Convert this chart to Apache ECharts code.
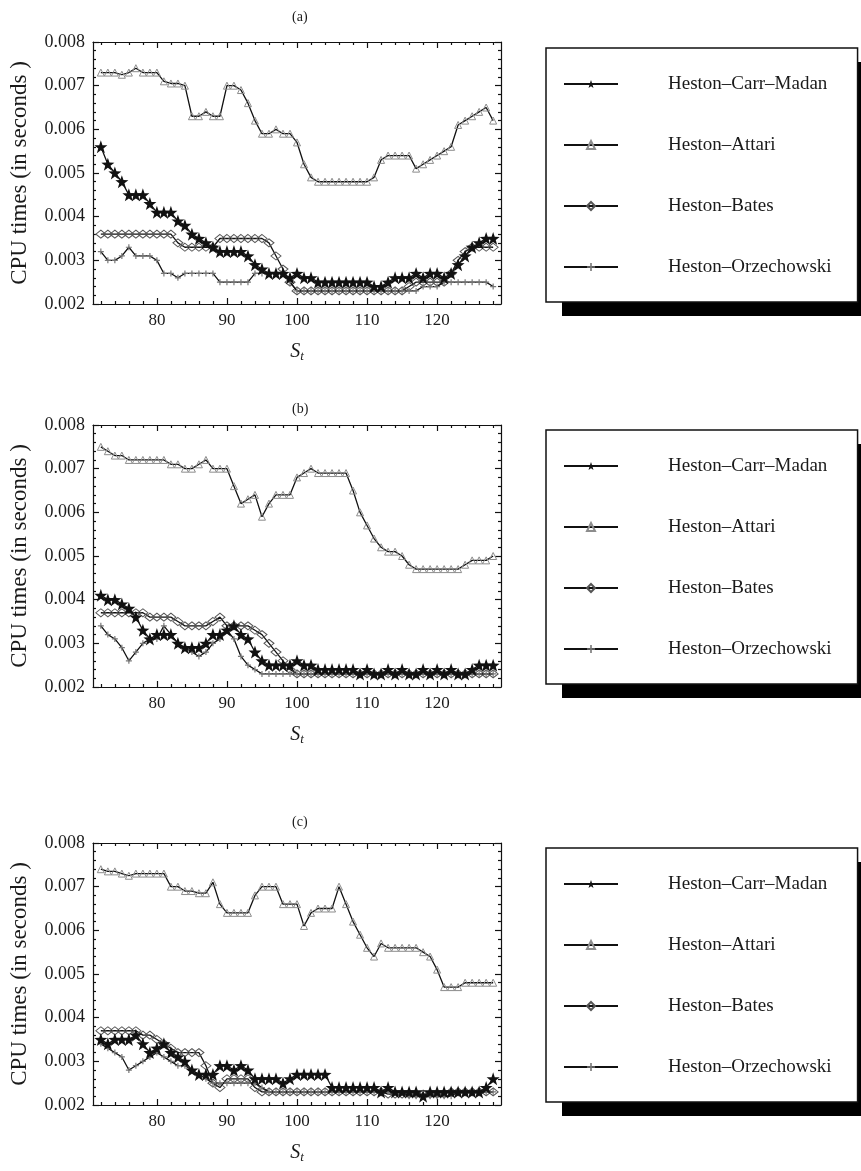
<!DOCTYPE html>
<html>
<head>
<meta charset="utf-8">
<script src="https://cdn.jsdelivr.net/npm/echarts@6/dist/echarts.min.js"></script>
<style>
  html, body { margin: 0; padding: 0; background: #fff; }
  #chart { width: 861px; height: 1171px; }
</style>
</head>
<body>
<div id="chart"></div>
<script>
// Stock price grid S_t shared by all three panels
const stockPrice = [72,73,74,75,76,77,78,79,80,81,82,83,84,85,86,87,88,89,90,91,
  92,93,94,95,96,97,98,99,100,101,102,103,104,105,106,107,108,109,110,111,
  112,113,114,115,116,117,118,119,120,121,122,123,124,125,126,127,128];

const majorTicksX = [80, 90, 100, 110, 120];
const minorTicksX = [72,74,76,78,82,84,86,88,92,94,96,98,102,104,106,108,112,114,116,118,122,124,126,128];

const seriesNames = ['Heston\u2013Carr\u2013Madan', 'Heston\u2013Attari', 'Heston\u2013Bates', 'Heston\u2013Orzechowski'];
const panelTitles = ['(a)', '(b)', '(c)'];

// ---- panel (a) CPU times, seconds ----
const carrMadanA = [0.0056,0.0052,0.0050,0.0048,0.0045,0.0045,0.0045,0.0043,0.0041,0.0041,
  0.0041,0.0039,0.0038,0.0036,0.0035,0.0034,0.0033,0.0032,0.0032,0.0032,
  0.0032,0.0031,0.0029,0.0028,0.0027,0.0027,0.0027,0.0026,0.0027,0.0026,
  0.0026,0.0025,0.0025,0.0025,0.0025,0.0025,0.0025,0.0025,0.0025,0.0024,
  0.0024,0.0025,0.0026,0.0026,0.0026,0.0027,0.0026,0.0027,0.0027,0.0026,
  0.0027,0.0029,0.0031,0.0033,0.0034,0.0035,0.0035];
const attariA = [0.0073,0.0073,0.0073,0.00725,0.0073,0.0074,0.0073,0.0073,0.0073,0.0071,
  0.00705,0.00705,0.0070,0.0063,0.0063,0.0064,0.0063,0.0063,0.0070,0.0070,
  0.0069,0.0066,0.0062,0.0059,0.0059,0.0060,0.0059,0.0059,0.0057,0.0052,
  0.0049,0.0048,0.0048,0.0048,0.0048,0.0048,0.0048,0.0048,0.0048,0.0049,
  0.0053,0.0054,0.0054,0.0054,0.0054,0.0051,0.0052,0.0053,0.0054,0.0055,
  0.0056,0.0061,0.0062,0.0063,0.0064,0.0065,0.0062];
const batesA = [0.0036,0.0036,0.0036,0.0036,0.0036,0.0036,0.0036,0.0036,0.0036,0.0036,
  0.0036,0.0034,0.0033,0.0033,0.0033,0.0033,0.0033,0.0035,0.0035,0.0035,
  0.0035,0.0035,0.0035,0.0035,0.0034,0.0031,0.0028,0.0025,0.0023,0.0023,
  0.0023,0.0023,0.0023,0.0023,0.0023,0.0023,0.0023,0.0023,0.0023,0.0023,
  0.0023,0.0023,0.0023,0.0023,0.0024,0.0025,0.0025,0.0025,0.0025,0.0025,
  0.0027,0.0030,0.0032,0.0033,0.0033,0.0033,0.0033];
const orzechowskiA = [0.0032,0.0030,0.0030,0.0031,0.0033,0.0031,0.0031,0.0031,0.0030,0.0027,
  0.0027,0.0026,0.0027,0.0027,0.0027,0.0027,0.0027,0.0025,0.0025,0.0025,
  0.0025,0.0025,0.0027,0.0027,0.0027,0.0027,0.0027,0.0025,0.0023,0.0023,
  0.0023,0.0023,0.0023,0.0023,0.0023,0.0023,0.0023,0.0023,0.0023,0.0023,
  0.0023,0.0023,0.0023,0.0023,0.0023,0.0023,0.0024,0.0024,0.0024,0.0025,
  0.0025,0.0025,0.0025,0.0025,0.0025,0.0025,0.0024];

// ---- panel (b) ----
const carrMadanB = [0.0041,0.0040,0.0040,0.0039,0.0038,0.0036,0.0033,0.0031,0.0032,0.0032,
  0.0032,0.0030,0.0029,0.0029,0.0029,0.0030,0.0032,0.0032,0.0033,0.0034,
  0.0032,0.0031,0.0028,0.0026,0.0025,0.0025,0.0025,0.0025,0.0026,0.0025,
  0.0025,0.0024,0.0024,0.0024,0.0024,0.0024,0.0024,0.0023,0.0024,0.0023,
  0.0023,0.0024,0.0023,0.0024,0.0023,0.0023,0.0024,0.0023,0.0024,0.0023,
  0.0024,0.0023,0.0023,0.0024,0.0025,0.0025,0.0025];
const attariB = [0.0075,0.0074,0.0073,0.0073,0.0072,0.0072,0.0072,0.0072,0.0072,0.0072,
  0.0071,0.0071,0.0070,0.0070,0.0071,0.0072,0.0070,0.0070,0.0070,0.0066,
  0.0062,0.0063,0.0064,0.0059,0.0062,0.0064,0.0064,0.0064,0.0068,0.0069,
  0.0070,0.0069,0.0069,0.0069,0.0069,0.0069,0.0065,0.0060,0.0057,0.0054,
  0.0052,0.0051,0.0051,0.0050,0.0048,0.0047,0.0047,0.0047,0.0047,0.0047,
  0.0047,0.0047,0.0048,0.0049,0.0049,0.0049,0.0050];
const batesB = [0.0037,0.0037,0.0037,0.0037,0.0037,0.0037,0.0037,0.0036,0.0036,0.0036,
  0.0036,0.0035,0.0034,0.0034,0.0034,0.0034,0.0035,0.0036,0.0034,0.0034,
  0.0034,0.0034,0.0033,0.0032,0.0030,0.0028,0.0026,0.0024,0.0023,0.0023,
  0.0023,0.0023,0.0023,0.0023,0.0023,0.0023,0.0023,0.0023,0.0023,0.0023,
  0.0023,0.0023,0.0023,0.0023,0.0023,0.0023,0.0023,0.0023,0.0023,0.0023,
  0.0023,0.0023,0.0023,0.0023,0.0023,0.0023,0.0023];
const orzechowskiB = [0.0034,0.0032,0.0031,0.0029,0.0026,0.0028,0.0030,0.0031,0.0031,0.0034,
  0.0032,0.0030,0.0029,0.0028,0.0027,0.0028,0.0030,0.0031,0.0033,0.0031,
  0.0027,0.0025,0.0024,0.0023,0.0023,0.0023,0.0023,0.0023,0.0023,0.0023,
  0.0023,0.0023,0.0023,0.0023,0.0023,0.0023,0.0023,0.0023,0.0023,0.0023,
  0.0023,0.0023,0.0023,0.0023,0.0023,0.0023,0.0023,0.0023,0.0023,0.0023,
  0.0023,0.0023,0.0023,0.0023,0.0023,0.0023,0.0023];

// ---- panel (c) ----
const carrMadanC = [0.0035,0.0034,0.0035,0.0035,0.0035,0.0036,0.0034,0.0032,0.0033,0.0034,
  0.0032,0.0031,0.0030,0.0028,0.0027,0.0027,0.0027,0.0029,0.0029,0.0028,
  0.0029,0.0028,0.0026,0.0026,0.0026,0.0026,0.0025,0.0026,0.0027,0.0027,
  0.0027,0.0027,0.0027,0.0024,0.0024,0.0024,0.0024,0.0024,0.0024,0.0024,
  0.0023,0.0024,0.0023,0.0023,0.0023,0.0023,0.0022,0.0023,0.0023,0.0023,
  0.0023,0.0023,0.0023,0.0023,0.0023,0.0024,0.0026];
const attariC = [0.0074,0.00735,0.00735,0.0073,0.00725,0.0073,0.0073,0.0073,0.0073,0.0073,
  0.0070,0.0070,0.0069,0.0069,0.00685,0.00685,0.0071,0.0066,0.0064,0.0064,
  0.0064,0.0064,0.0068,0.0070,0.0070,0.0070,0.0066,0.0066,0.0066,0.0061,
  0.0064,0.0065,0.0065,0.0065,0.0070,0.0066,0.0062,0.0059,0.0056,0.0054,
  0.0057,0.0056,0.0056,0.0056,0.0056,0.0056,0.0055,0.0054,0.0051,0.0047,
  0.0047,0.0047,0.0048,0.0048,0.0048,0.0048,0.0048];
const batesC = [0.0037,0.0037,0.0037,0.0037,0.0037,0.0037,0.0036,0.0036,0.0035,0.0034,
  0.0033,0.0032,0.0032,0.0032,0.0032,0.0029,0.0025,0.0024,0.0026,0.0026,
  0.0026,0.0026,0.0024,0.0023,0.0023,0.0023,0.0023,0.0023,0.0023,0.0023,
  0.0023,0.0023,0.0023,0.0023,0.0023,0.0023,0.0023,0.0023,0.0023,0.0023,
  0.0023,0.00225,0.00225,0.00225,0.00225,0.00225,0.00225,0.00225,0.00225,0.00225,
  0.0023,0.0023,0.0023,0.0023,0.0023,0.0023,0.0023];
const orzechowskiC = [0.0034,0.0033,0.0032,0.0031,0.0028,0.0029,0.0030,0.0031,0.0032,0.0031,
  0.0030,0.0029,0.0029,0.0028,0.0027,0.0026,0.0025,0.0025,0.0025,0.0025,
  0.0025,0.0025,0.0025,0.0024,0.0023,0.0023,0.0023,0.0023,0.0023,0.0023,
  0.0023,0.0023,0.0023,0.0023,0.0023,0.0023,0.0023,0.0023,0.0023,0.0023,
  0.0023,0.0023,0.0023,0.0023,0.0022,0.0022,0.0022,0.0022,0.0022,0.0022,
  0.0022,0.0023,0.0023,0.0023,0.0023,0.0023,0.0023];

const panels = [
  [carrMadanA, attariA, batesA, orzechowskiA],
  [carrMadanB, attariB, batesB, orzechowskiB],
  [carrMadanC, attariC, batesC, orzechowskiC]
];

// ---- layout & style ----
const SERIF = "'Liberation Serif', 'DejaVu Serif', serif";
const X_MIN = 70.88, X_MAX = 129.12;
const gridTops = [42, 425, 843];
const gridHeight = 262;
const gridLeft = 93, gridRight = 360;
const legendTops = [48, 430, 848];
const legendLeft = 546, legendHeight = 254;
const titleTops = [5, 397, 810];
const frame = { color: '#111', width: 1.2 };

const starPath = 'path://M0,-10L2.35,-3.24L9.51,-3.09L3.8,1.24L5.88,8.09L0,4L-5.88,8.09L-3.8,1.24L-9.51,-3.09L-2.35,-3.24Z';
const plusPath = 'path://M-1,-5L1,-5L1,-1L5,-1L5,1L1,1L1,5L-1,5L-1,1L-5,1L-5,-1L-1,-1Z';
const diamondPath = 'path://M0,-5L6,0L0,5L-6,0Z';

const markerStyles = [
  { symbol: starPath, symbolSize: 13, itemStyle: { color: '#111', borderWidth: 0 }, z: 5 },
  { symbol: 'triangle', symbolSize: 7, itemStyle: { color: 'rgba(255,255,255,0)', borderColor: '#8c8c8c', borderWidth: 1 }, z: 2 },
  { symbol: diamondPath, symbolSize: [10, 8], itemStyle: { color: 'rgba(255,255,255,0)', borderColor: '#555', borderWidth: 1 }, z: 3 },
  { symbol: plusPath, symbolSize: 6, itemStyle: { color: '#777', borderWidth: 0 }, z: 4 }
];

const grids = [], xAxes = [], yAxes = [], series = [], legends = [], titles = [], shadows = [];

gridTops.forEach((top, g) => {
  grids.push({ left: gridLeft, right: gridRight, top: top, height: gridHeight, containLabel: false });

  const xBase = { gridIndex: g, type: 'value', min: X_MIN, max: X_MAX, splitLine: { show: false },
    axisLabel: { show: false }, axisLine: { show: false } };
  xAxes.push(Object.assign({}, xBase, {
    position: 'bottom',
    axisLine: { show: true, onZero: false, lineStyle: frame },
    axisTick: { show: true, inside: true, length: 6, lineStyle: frame, customValues: majorTicksX },
    axisLabel: { show: true, customValues: majorTicksX, margin: 8, fontFamily: SERIF, fontSize: 17, color: '#1a1a1a' },
    name: '{s|S}{t|t}', nameLocation: 'middle', nameGap: 36,
    nameTextStyle: { rich: {
      s: { fontFamily: SERIF, fontStyle: 'italic', fontSize: 20, color: '#1a1a1a' },
      t: { fontFamily: SERIF, fontStyle: 'italic', fontSize: 13, color: '#1a1a1a', padding: [10, 0, 0, 0] }
    } }
  }));
  xAxes.push(Object.assign({}, xBase, {
    position: 'bottom',
    axisTick: { show: true, inside: true, length: 3, lineStyle: frame, customValues: minorTicksX }
  }));
  xAxes.push(Object.assign({}, xBase, {
    position: 'top',
    axisLine: { show: true, onZero: false, lineStyle: frame },
    axisTick: { show: true, inside: true, length: 6, lineStyle: frame, customValues: majorTicksX }
  }));
  xAxes.push(Object.assign({}, xBase, {
    position: 'top',
    axisTick: { show: true, inside: true, length: 3, lineStyle: frame, customValues: minorTicksX }
  }));

  const yBase = { gridIndex: g, type: 'value', min: 0.002, max: 0.008, interval: 0.001,
    splitLine: { show: false },
    axisLine: { show: true, onZero: false, lineStyle: frame },
    axisTick: { show: true, inside: true, length: 6, lineStyle: frame },
    minorTick: { show: true, splitNumber: 5, length: 3, lineStyle: frame } };
  yAxes.push(Object.assign({}, yBase, {
    position: 'left',
    axisLabel: { formatter: v => v.toFixed(3), margin: 8, fontFamily: SERIF, fontSize: 18, color: '#1a1a1a' },
    name: 'CPU times (in seconds )', nameLocation: 'middle', nameGap: 62,
    nameTextStyle: { fontFamily: SERIF, fontSize: 23, color: '#1a1a1a' }
  }));
  yAxes.push(Object.assign({}, yBase, { position: 'right', axisLabel: { show: false } }));

  panels[g].forEach((values, k) => {
    series.push(Object.assign({
      type: 'line',
      name: seriesNames[k],
      xAxisIndex: g * 4,
      yAxisIndex: g * 2,
      data: stockPrice.map((s, i) => [s, values[i]]),
      showSymbol: true,
      showAllSymbol: true,
      lineStyle: { color: '#111', width: 1.3 },
      emphasis: { disabled: true },
      animation: false
    }, markerStyles[k]));
  });

  legends.push({
    orient: 'vertical',
    left: legendLeft,
    top: legendTops[g],
    data: seriesNames,
    itemWidth: 54,
    itemHeight: 10,
    itemGap: 41,
    padding: [26, 26, 25, 17],
    backgroundColor: '#fff',
    borderColor: '#111',
    borderWidth: 1.5,
    selectedMode: false,
    textStyle: { fontFamily: SERIF, fontSize: 19, lineHeight: 20, color: '#1a1a1a', padding: [0, 0, 0, 45] }
  });

  // solid drop shadow behind each legend box
  shadows.push({
    type: 'rect',
    z: 0,
    silent: true,
    shape: { x: legendLeft + 16, y: legendTops[g] + 14, width: 330, height: legendHeight },
    style: { fill: '#000' }
  });

  titles.push({
    text: panelTitles[g],
    left: 287,
    top: titleTops[g],
    textStyle: { fontFamily: SERIF, fontSize: 14, fontWeight: 'normal', color: '#1a1a1a' }
  });
});

const chart = echarts.init(document.getElementById('chart'), null, { renderer: 'canvas' });
chart.setOption({
  backgroundColor: '#fff',
  animation: false,
  title: titles,
  grid: grids,
  xAxis: xAxes,
  yAxis: yAxes,
  legend: legends,
  graphic: shadows,
  series: series
});
</script>
</body>
</html>
